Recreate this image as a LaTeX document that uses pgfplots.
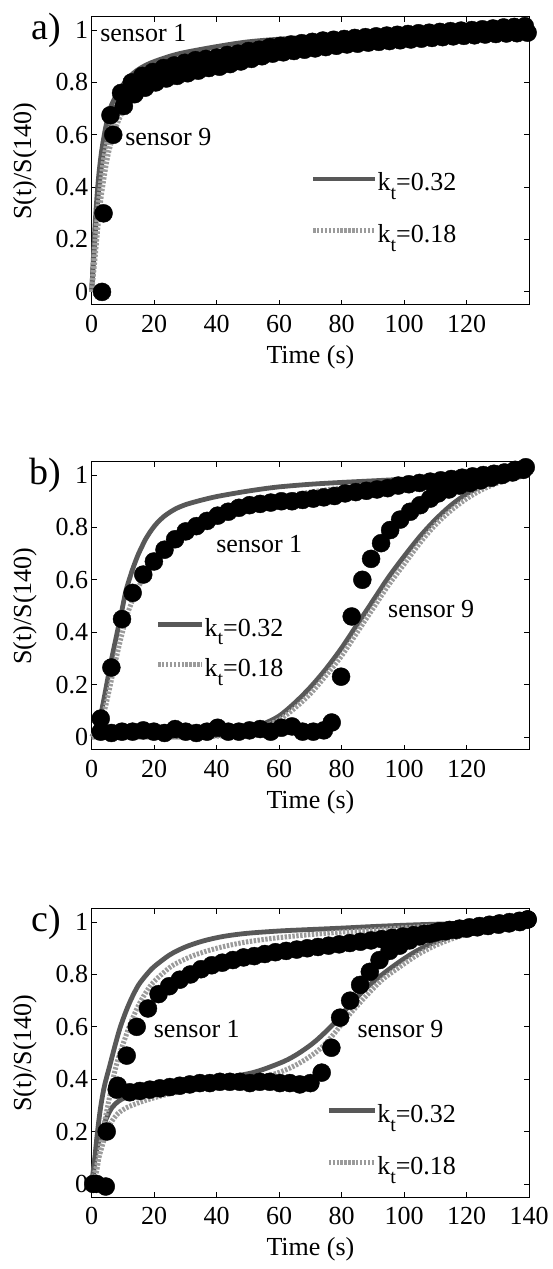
\documentclass[border=0pt]{standalone}
\usepackage{fontspec}
\setmainfont{Liberation Serif}
\usepackage{pgfplots}
\pgfplotsset{compat=1.18}
\definecolor{solidgray}{RGB}{88,88,88}
\definecolor{dashgray}{RGB}{155,155,155}
\newcommand{\fs}{\fontsize{26}{30}\selectfont}
\newcommand{\kt}[1]{k\raisebox{-0.32em}{\fontsize{20}{20}\selectfont t}=#1}
\pgfplotsset{
  panel/.style={
    scale only axis, width=437.5pt, height=288pt,
    xmin=0, xmax=140, ymin=-0.05, ymax=1.05,
    ytick={0,0.2,0.4,0.6,0.8,1}, yticklabels={0,0.2,0.4,0.6,0.8,1},
    tick align=inside, major tick length=5pt,
    tick style={black, line width=0.8pt},
    axis line style={black, line width=1pt},
    ticklabel style={font=\fs},
    xticklabel style={yshift=-7pt},
    /pgf/number format/assume math mode=true,
    xlabel={Time (s)}, ylabel={S(t)/S(140)},
    label style={font=\fs},
    xlabel style={at={(axis description cs:0.5,-0.18)}, anchor=center},
    ylabel style={at={(axis description cs:-0.153,0.5)}, anchor=center},
    clip=false,
    legend cell align=left,
    legend style={draw=none, fill=none, font=\fs, inner sep=0pt,
      nodes={inner sep=0pt, text height=18pt, text depth=6pt}},
  },
  dat/.style={only marks, mark=*, mark size=9pt, color=black, mark options={fill=black, draw=black}},
  fitA/.style={no marks, smooth, line width=4.8pt, color=solidgray},
  fitB/.style={no marks, smooth, line width=5pt, color=dashgray, dash pattern=on 2.4pt off 1.5pt},
}
\begin{document}
\begin{tikzpicture}
\path[use as bounding box] (0,0) rectangle (552pt,1269pt);
% ---------------- panel a ----------------
\begin{axis}[panel, at={(91.7pt,964pt)}, anchor=south west,
  xtick={0,20,40,60,80,100,120}, xticklabels={0,20,40,60,80,100,120},
  legend style={at={(axis cs:70,0.309)}, anchor=west, row sep=28pt},
  legend image code/.code={\draw[#1] (0pt,6pt) -- (62pt,6pt);}]
\addlegendimage{fitA}\addlegendentry{\kt{0.32}}
\addlegendimage{fitB}\addlegendentry{\kt{0.18}}
\addplot[dat, forget plot] coordinates {(3.8,0.30)(6.0,0.675)(9.4,0.76)(12.8,0.80)(16.2,0.825)(19.6,0.84)(23,0.855)(26.4,0.865)(29.8,0.875)(33.2,0.885)(36.6,0.89)(40,0.895)(43.4,0.905)(46.8,0.91)(50.2,0.92)(53.6,0.925)(57,0.935)(60.4,0.94)(63.8,0.945)(67.2,0.95)(70.6,0.955)(74,0.96)(77.4,0.963)(80.8,0.966)(84.2,0.97)(87.6,0.973)(91,0.976)(94.4,0.979)(97.8,0.982)(101.2,0.985)(104.6,0.988)(108,0.99)(111.4,0.993)(114.8,0.996)(118.2,0.998)(121.6,1.0)(125,1.003)(128.4,1.006)(131.8,1.01)(135.2,1.012)(138.6,1.015)};
\addplot[dat, forget plot] coordinates {(3.3,0)(6.9,0.60)(10.3,0.71)(13.7,0.755)(17.1,0.78)(20.5,0.80)(23.9,0.815)(27.3,0.825)(30.7,0.835)(34.1,0.845)(37.5,0.855)(40.9,0.86)(44.3,0.87)(47.7,0.88)(51.1,0.89)(54.5,0.9)(57.9,0.91)(61.3,0.915)(64.7,0.92)(68.1,0.925)(71.5,0.93)(74.9,0.935)(78.3,0.94)(81.7,0.945)(85.1,0.948)(88.5,0.952)(91.9,0.955)(95.3,0.958)(98.7,0.961)(102.1,0.964)(105.5,0.967)(108.9,0.97)(112.3,0.973)(115.7,0.976)(119.1,0.978)(122.5,0.98)(125.9,0.983)(129.3,0.985)(132.7,0.987)(136.1,0.988)(139.5,0.99)};
\addplot[fitA, forget plot] coordinates {(0,0)(0.5,0.12)(1,0.24)(1.6,0.35)(2.3,0.45)(3.2,0.54)(4.5,0.63)(5.9,0.70)(8.5,0.765)(12,0.82)(15,0.85)(19,0.875)(25,0.9)(30,0.915)(40,0.937)(50,0.955)(62,0.967)(80,0.98)(100,0.99)(120,0.996)(140,1.0)};
\addplot[fitA, forget plot] coordinates {(0,0)(1,0.2)(2,0.36)(3,0.47)(4,0.55)(6,0.65)(8,0.71)(10,0.75)(15,0.8)(20,0.83)(30,0.865)(40,0.89)(50,0.915)(62,0.94)(80,0.962)(100,0.978)(120,0.99)(140,1.0)};
\addplot[fitB, forget plot] coordinates {(0,0)(1,0.12)(2,0.25)(3,0.36)(4,0.44)(5,0.51)(6,0.56)(7.5,0.62)(10,0.69)(14,0.75)(20,0.8)(25,0.83)(30,0.85)(40,0.88)(50,0.905)(60,0.93)(80,0.958)(100,0.975)(120,0.99)(140,1.0)};
\addplot[fitB, forget plot] coordinates {(0,0)(1,0.18)(2,0.32)(3,0.43)(4,0.52)(6,0.63)(8,0.7)(10,0.745)(15,0.81)(20,0.85)(30,0.89)(40,0.915)(60,0.945)(80,0.965)(100,0.98)(120,0.99)(140,1.0)};
\node[font=\fs, anchor=west, inner sep=0pt] at (axis cs:2.7,0.99) {sensor 1};
\node[font=\fs, anchor=west, inner sep=0pt] at (axis cs:10.7,0.59) {sensor 9};
\node[font=\fontsize{38}{40}\selectfont, anchor=east, inner sep=0pt] at (axis description cs:-0.069,0.9545) {a)};
\end{axis}
% ---------------- panel b ----------------
\begin{axis}[panel, at={(91.7pt,519pt)}, anchor=south west,
  xtick={0,20,40,60,80,100,120}, xticklabels={0,20,40,60,80,100,120},
  legend style={at={(axis cs:20.4,0.33)}, anchor=west, row sep=16.5pt},
  legend image code/.code={\draw[#1] (0pt,6pt) -- (44pt,6pt);}]
\addlegendimage{fitA}\addlegendentry{\kt{0.32}}
\addlegendimage{fitB}\addlegendentry{\kt{0.18}}
\addplot[dat, forget plot] coordinates {(2.9,0.07)(6.3,0.265)(9.7,0.45)(13.1,0.55)(16.5,0.62)(19.9,0.67)(23.3,0.715)(26.7,0.755)(30.1,0.785)(33.5,0.805)(36.9,0.825)(40.3,0.845)(43.7,0.86)(47.1,0.875)(50.5,0.885)(53.9,0.89)(57.3,0.895)(60.7,0.90)(64.1,0.90)(67.5,0.905)(70.9,0.91)(74.3,0.915)(77.7,0.92)(81.1,0.93)(84.5,0.935)(87.9,0.94)(91.3,0.945)(94.7,0.95)(98.1,0.96)(101.5,0.965)(104.9,0.97)(108.3,0.975)(111.7,0.98)(115.1,0.985)(118.5,0.99)(121.9,0.995)(125.3,1.0)(128.7,1.005)(132.1,1.01)(135.5,1.02)(138.9,1.03)};
\addplot[dat, forget plot] coordinates {(2.9,0.02)(6.3,0.015)(9.7,0.02)(13.1,0.02)(16.5,0.025)(19.9,0.02)(23.3,0.015)(26.7,0.03)(30.1,0.02)(33.5,0.015)(36.9,0.02)(40.3,0.035)(43.7,0.02)(47.1,0.02)(50.5,0.025)(53.9,0.03)(57.3,0.02)(60.7,0.035)(64.1,0.04)(67.5,0.02)(70.9,0.02)(74.3,0.025)(76.8,0.055)(79.8,0.23)(83.2,0.46)(86.6,0.60)(89.4,0.68)(92.6,0.74)(95.5,0.79)(98.7,0.83)(101.9,0.86)(105.1,0.885)(108.3,0.91)(110.9,0.93)(114.3,0.945)(117.7,0.96)(121.1,0.97)(124.5,0.98)(127.9,0.99)(131.3,1.0)(134.7,1.01)(138.1,1.02)};
\addplot[fitA, forget plot] coordinates {(0,0)(1,0.02)(2.7,0.075)(4,0.15)(5.9,0.27)(8,0.39)(9.6,0.48)(11,0.56)(12.8,0.63)(14,0.67)(15,0.70)(16,0.725)(17,0.75)(18,0.77)(19,0.788)(20,0.804)(21,0.818)(22,0.83)(23,0.841)(24,0.85)(25,0.858)(27,0.872)(30,0.887)(34.7,0.903)(40,0.918)(47.5,0.934)(54,0.946)(60,0.955)(70,0.965)(80,0.972)(90,0.978)(100,0.984)(110,0.988)(120,0.993)(130,0.997)(140,1)};
\addplot[fitA, forget plot] coordinates {(0,0)(30,0.0)(40,0.005)(45,0.015)(50,0.03)(55,0.05)(60,0.08)(65,0.13)(70,0.19)(75,0.26)(80,0.34)(85,0.43)(90,0.52)(95,0.61)(100,0.69)(105,0.765)(110,0.83)(115,0.885)(120,0.928)(125,0.958)(130,0.978)(135,0.992)(140,1.0)};
\addplot[fitB, forget plot] coordinates {(0,0)(1,0.015)(2.7,0.05)(4.5,0.12)(6.9,0.25)(9,0.36)(11.2,0.46)(13,0.52)(15.5,0.585)(18,0.64)(21.9,0.705)(26,0.755)(32.5,0.805)(38,0.838)(43.2,0.862)(53.9,0.898)(60,0.915)(70,0.935)(80,0.951)(90,0.963)(100,0.973)(110,0.981)(120,0.988)(130,0.995)(140,1.0)};
\addplot[fitB, forget plot] coordinates {(0,0)(40,0.003)(45,0.01)(50,0.02)(55,0.04)(60,0.065)(65,0.11)(70,0.165)(75,0.235)(80,0.31)(85,0.4)(90,0.49)(95,0.58)(100,0.66)(105,0.74)(110,0.81)(115,0.865)(120,0.91)(125,0.945)(130,0.97)(135,0.988)(140,1.0)};
\node[font=\fs, anchor=west, inner sep=0pt] at (axis cs:39.8,0.737) {sensor 1};
\node[font=\fs, anchor=west, inner sep=0pt] at (axis cs:94.8,0.49) {sensor 9};
\node[font=\fontsize{38}{40}\selectfont, anchor=east, inner sep=0pt] at (axis description cs:-0.069,0.9545) {b)};
\end{axis}
% ---------------- panel c ----------------
\begin{axis}[panel, at={(91.7pt,72pt)}, anchor=south west,
  xtick={0,20,40,60,80,100,120,140}, xticklabels={0,20,40,60,80,100,120,140},
  legend style={at={(axis cs:75,0.157)}, anchor=west, row sep=28pt},
  legend image code/.code={\draw[#1] (0pt,6pt) -- (46pt,6pt);}]
\addlegendimage{fitA}\addlegendentry{\kt{0.32}}
\addlegendimage{fitB}\addlegendentry{\kt{0.18}}
\addplot[dat, forget plot] coordinates {(0.5,0)(4.8,0.2)(8.0,0.36)(11.2,0.49)(14.4,0.60)(18,0.67)(21.4,0.725)(24.8,0.755)(28.2,0.78)(31.6,0.80)(35,0.82)(38.4,0.835)(41.8,0.845)(45.2,0.855)(48.6,0.865)(52,0.87)(55.4,0.878)(58.8,0.885)(62.2,0.89)(65.6,0.895)(69,0.90)(72.4,0.905)(75.8,0.91)(79.2,0.915)(82.6,0.92)(86,0.925)(89.4,0.93)(92.8,0.935)(96.2,0.94)(99.6,0.945)(103,0.95)(106.4,0.955)(109.8,0.96)(113.2,0.965)(116.6,0.97)(120,0.975)(123.4,0.98)(126.8,0.985)(130.2,0.99)(133.6,0.995)(137,1.0)(139.5,1.01)};
\addplot[dat, forget plot] coordinates {(1.5,0)(4.5,-0.01)(8.3,0.375)(12.2,0.35)(15.4,0.355)(18.6,0.36)(21.8,0.365)(25,0.37)(28.2,0.375)(31.4,0.38)(34.6,0.385)(37.8,0.385)(41,0.39)(44.2,0.39)(47.4,0.39)(50.6,0.385)(53.8,0.39)(57,0.39)(60.2,0.385)(63.4,0.385)(66.6,0.38)(70,0.385)(73.6,0.425)(76.7,0.52)(79.5,0.635)(82.7,0.70)(85.9,0.76)(89,0.81)(92.1,0.855)(95.3,0.89)(98.5,0.91)(101.7,0.93)(104.9,0.945)(108.1,0.955)(111.3,0.965)(114.5,0.97)(117.7,0.975)(120.9,0.98)(124.1,0.985)(127.3,0.99)(130.5,0.995)(133.7,1.0)(136.9,1.005)(139.5,1.01)};
\addplot[fitA, forget plot] coordinates {(0,0)(0.5,0.03)(1.5,0.16)(2.7,0.28)(4,0.37)(5.9,0.457)(7.5,0.53)(9.1,0.597)(11,0.66)(12.8,0.71)(15,0.76)(17.6,0.80)(20,0.83)(25,0.875)(30,0.905)(35.7,0.928)(42,0.945)(49.6,0.957)(60,0.966)(68.8,0.971)(80,0.977)(90,0.983)(100,0.988)(110,0.992)(120,0.995)(130,0.998)(140,1)};
\addplot[fitA, forget plot] coordinates {(0,0)(0.5,0.05)(1.1,0.10)(2,0.15)(3.2,0.20)(4.5,0.245)(6.4,0.29)(8.5,0.315)(10.7,0.33)(15,0.35)(19.2,0.362)(25,0.375)(35.2,0.394)(45,0.41)(51.2,0.424)(56,0.442)(61.9,0.47)(66,0.497)(70,0.53)(73,0.56)(77.3,0.61)(82,0.675)(88,0.75)(93,0.80)(98.7,0.85)(104,0.89)(109.3,0.92)(115,0.945)(120,0.964)(125,0.976)(130.7,0.986)(135,0.993)(140,1.0)};
\addplot[fitB, forget plot] coordinates {(0,0)(1.6,0.05)(3,0.16)(4.5,0.26)(5.9,0.343)(7,0.41)(8.5,0.48)(10.5,0.55)(12.3,0.61)(14.5,0.67)(16.5,0.715)(19,0.76)(21.9,0.795)(26,0.835)(32.5,0.872)(40,0.9)(48.5,0.922)(58,0.938)(68.8,0.951)(80,0.962)(90,0.97)(100,0.978)(110,0.985)(120,0.99)(130,0.995)(140,1)};
\addplot[fitB, forget plot] coordinates {(0,0)(1.1,0.05)(2.5,0.11)(4.8,0.2)(6.5,0.24)(8.5,0.27)(11,0.29)(13.9,0.305)(18,0.322)(24.5,0.343)(32,0.36)(40.5,0.375)(48,0.392)(56.5,0.413)(62,0.435)(67,0.465)(72.5,0.51)(77.3,0.57)(82,0.64)(88,0.72)(93,0.78)(98.7,0.83)(104,0.873)(109.3,0.907)(115,0.935)(120,0.953)(125,0.967)(130.7,0.979)(135,0.99)(140,1.0)};
\node[font=\fs, anchor=west, inner sep=0pt] at (axis cs:19.8,0.59) {sensor 1};
\node[font=\fs, anchor=west, inner sep=0pt] at (axis cs:85,0.59) {sensor 9};
\node[font=\fontsize{38}{40}\selectfont, anchor=east, inner sep=0pt] at (axis description cs:-0.069,0.9545) {c)};
\end{axis}
\end{tikzpicture}
\end{document}
